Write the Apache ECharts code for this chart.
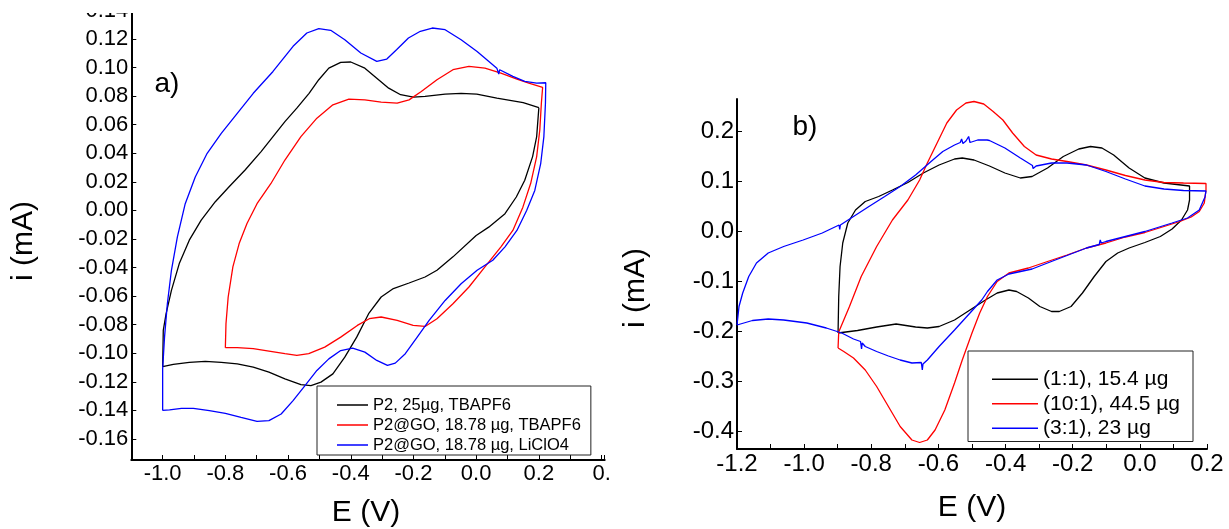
<!DOCTYPE html>
<html><head><meta charset="utf-8">
<script src="https://cdn.jsdelivr.net/npm/echarts@6/dist/echarts.min.js"></script>
<style>html,body{margin:0;padding:0;background:#fff}#c{width:1229px;height:529px}</style>
</head><body><div id="c"></div>
<script>
// ---------- DATA (E in V, i in mA) ----------
const namesA = ['P2, 25µg, TBAPF6', 'P2@GO, 18.78 µg, TBAPF6', 'P2@GO, 18.78 µg, LiClO4'];
const namesB = ['(1:1), 15.4 µg', '(10:1), 44.5 µg', '(3:1), 23 µg'];

const curveA1 = [[0.200,0.072],[0.15,0.0755],[0.066,0.0786],[0.002,0.0814],[-0.048,0.082],[-0.099,0.0814],[-0.163,0.0798],[-0.200,0.0793],[-0.241,0.081],[-0.279,0.0856],[-0.317,0.0926],[-0.355,0.0996],[-0.40,0.1039],[-0.432,0.1036],[-0.47,0.0996],[-0.502,0.0915],[-0.533,0.082],[-0.572,0.0716],[-0.61,0.0622],[-0.648,0.0517],[-0.686,0.0412],[-0.737,0.0283],[-0.788,0.0166],[-0.832,0.0061],[-0.877,-0.0068],[-0.915,-0.0208],[-0.947,-0.0372],[-0.972,-0.056],[-0.989,-0.0723],[-0.998,-0.084],[-1.0,-0.1093],
[-0.966,-0.1078],[-0.915,-0.1064],[-0.864,-0.1057],[-0.813,-0.1064],[-0.762,-0.1074],[-0.711,-0.1097],[-0.661,-0.1132],[-0.61,-0.1179],[-0.559,-0.1219],[-0.527,-0.1226],[-0.495,-0.1202],[-0.457,-0.1144],[-0.419,-0.1027],[-0.381,-0.0887],[-0.343,-0.0723],[-0.303,-0.0606],[-0.264,-0.0547],[-0.214,-0.0508],[-0.163,-0.0466],[-0.125,-0.0419],[-0.074,-0.0325],[0.0,-0.0175],[0.04,-0.0117],[0.092,-0.0023],[0.128,0.0094],[0.155,0.0211],[0.18,0.0377],[0.193,0.0517],[0.2,0.072]];

const curveA2 = [[-0.8,-0.0961],[-0.798,-0.0793],[-0.791,-0.0606],[-0.776,-0.0395],[-0.756,-0.0232],[-0.731,-0.0091],[-0.699,0.0047],[-0.655,0.0187],[-0.61,0.0353],[-0.559,0.0517],[-0.508,0.0646],[-0.457,0.0739],[-0.406,0.0779],[-0.355,0.0774],[-0.303,0.0758],[-0.252,0.0751],[-0.214,0.0774],[-0.175,0.0833],[-0.125,0.0915],[-0.074,0.0985],[-0.023,0.1008],[0.028,0.0996],[0.079,0.0961],[0.13,0.0919],[0.168,0.0891],[0.212,0.0861],
[0.208,0.075],[0.203,0.0564],[0.193,0.0377],[0.174,0.019],[0.149,0.0023],[0.117,-0.014],[0.079,-0.0255],[0.028,-0.0395],[-0.023,-0.0536],[-0.074,-0.0653],[-0.125,-0.0758],[-0.163,-0.0812],[-0.201,-0.0805],[-0.252,-0.077],[-0.303,-0.0746],[-0.341,-0.0758],[-0.379,-0.0805],[-0.432,-0.0887],[-0.483,-0.0957],[-0.534,-0.1003],[-0.572,-0.1015],[-0.61,-0.1003],[-0.661,-0.0985],[-0.711,-0.0968],[-0.762,-0.0961],[-0.8,-0.0961]];

const curveA3 = [[-1.0,-0.14],[-1.0,-0.111],[-0.994,-0.0887],[-0.985,-0.0653],[-0.972,-0.0419],[-0.953,-0.0185],[-0.928,0.0047],[-0.896,0.0234],[-0.858,0.04],[-0.813,0.054],[-0.762,0.068],[-0.711,0.082],[-0.648,0.0973],[-0.584,0.1149],[-0.54,0.1242],[-0.502,0.1273],[-0.464,0.1261],[-0.419,0.1195],[-0.368,0.1102],[-0.317,0.1043],[-0.285,0.106],[-0.254,0.1125],[-0.216,0.1207],[-0.178,0.1254],[-0.14,0.1277],[-0.099,0.1265],[-0.048,0.1195],[0.003,0.1113],[0.066,0.0996],[0.072,0.0955],[0.075,0.0985],[0.117,0.0938],[0.155,0.0903],[0.193,0.0891],[0.222,0.0894],
[0.221,0.075],[0.216,0.0517],[0.206,0.033],[0.187,0.014],[0.161,0.0],[0.13,-0.014],[0.092,-0.0255],[0.053,-0.0349],[0.003,-0.0419],[-0.048,-0.0513],[-0.099,-0.063],[-0.15,-0.077],[-0.188,-0.0887],[-0.226,-0.1003],[-0.258,-0.1069],[-0.283,-0.1085],[-0.317,-0.105],[-0.355,-0.0992],[-0.394,-0.0964],[-0.432,-0.0981],[-0.47,-0.1039],[-0.508,-0.112],[-0.546,-0.1226],[-0.584,-0.1331],[-0.622,-0.1425],[-0.661,-0.1471],[-0.699,-0.1476],[-0.75,-0.1448],[-0.8,-0.142],[-0.851,-0.1401],[-0.902,-0.1385],[-0.94,-0.1385],[-0.978,-0.1396],[-1.0,-0.14]];

const curveB1 = [[-0.899,-0.203],[-0.897,-0.13],[-0.893,-0.07],[-0.885,-0.023],[-0.87,0.017],[-0.847,0.043],[-0.818,0.06],[-0.778,0.07],[-0.737,0.083],[-0.691,0.098],[-0.645,0.117],[-0.598,0.133],[-0.552,0.145],[-0.529,0.147],[-0.494,0.143],[-0.448,0.131],[-0.402,0.117],[-0.356,0.107],[-0.321,0.11],[-0.275,0.127],[-0.228,0.15],[-0.182,0.165],[-0.147,0.17],[-0.113,0.167],[-0.078,0.153],[-0.032,0.127],[0.015,0.107],[0.072,0.097],[0.148,0.091],
[0.148,0.063],[0.142,0.043],[0.124,0.023],[0.096,0.005],[0.061,-0.01],[0.015,-0.022],[-0.032,-0.033],[-0.066,-0.043],[-0.101,-0.06],[-0.136,-0.09],[-0.171,-0.123],[-0.205,-0.15],[-0.24,-0.16],[-0.263,-0.16],[-0.298,-0.15],[-0.332,-0.133],[-0.367,-0.12],[-0.39,-0.117],[-0.425,-0.123],[-0.46,-0.137],[-0.506,-0.157],[-0.552,-0.177],[-0.598,-0.19],[-0.633,-0.193],[-0.668,-0.191],[-0.726,-0.185],[-0.784,-0.191],[-0.841,-0.198],[-0.899,-0.203]];

const curveB2 = [[-0.899,-0.233],[-0.897,-0.201],[-0.865,-0.15],[-0.83,-0.09],[-0.784,-0.03],[-0.737,0.023],[-0.691,0.063],[-0.656,0.103],[-0.633,0.137],[-0.604,0.177],[-0.575,0.217],[-0.546,0.243],[-0.518,0.257],[-0.494,0.26],[-0.465,0.255],[-0.437,0.24],[-0.408,0.223],[-0.379,0.197],[-0.344,0.17],[-0.309,0.153],[-0.263,0.145],[-0.217,0.14],[-0.159,0.133],[-0.101,0.123],[-0.043,0.112],[0.015,0.103],[0.072,0.098],[0.13,0.097],[0.197,0.096],
[0.197,0.083],[0.192,0.057],[0.177,0.04],[0.153,0.029],[0.119,0.02],[0.072,0.01],[0.015,-0.002],[-0.043,-0.011],[-0.101,-0.023],[-0.159,-0.033],[-0.217,-0.047],[-0.275,-0.06],[-0.332,-0.073],[-0.39,-0.083],[-0.425,-0.1],[-0.454,-0.13],[-0.477,-0.163],[-0.5,-0.203],[-0.529,-0.257],[-0.552,-0.303],[-0.581,-0.357],[-0.61,-0.397],[-0.633,-0.417],[-0.656,-0.422],[-0.679,-0.417],[-0.714,-0.39],[-0.749,-0.35],[-0.784,-0.31],[-0.818,-0.277],[-0.853,-0.253],[-0.882,-0.24],[-0.899,-0.233]];

const curveB3 = [[-1.2,-0.187],[-1.194,-0.15],[-1.183,-0.123],[-1.165,-0.09],[-1.142,-0.063],[-1.107,-0.043],[-1.061,-0.03],[-1.003,-0.017],[-0.946,-0.003],[-0.896,0.013],[-0.894,0.004],[-0.892,0.013],[-0.853,0.03],[-0.807,0.05],[-0.76,0.07],[-0.714,0.09],[-0.668,0.113],[-0.622,0.14],[-0.587,0.16],[-0.552,0.173],[-0.535,0.178],[-0.531,0.185],[-0.527,0.176],[-0.518,0.181],[-0.51,0.19],[-0.506,0.178],[-0.483,0.183],[-0.455,0.183],[-0.452,0.186],[-0.448,0.182],[-0.402,0.167],[-0.356,0.147],[-0.32,0.132],[-0.318,0.126],[-0.309,0.131],[-0.263,0.137],[-0.217,0.137],[-0.159,0.133],[-0.101,0.12],[-0.043,0.105],[0.015,0.091],[0.072,0.085],[0.13,0.082],[0.197,0.081],
[0.194,0.069],[0.177,0.043],[0.142,0.027],[0.096,0.017],[0.015,0.0],[-0.043,-0.01],[-0.101,-0.02],[-0.115,-0.023],[-0.118,-0.017],[-0.121,-0.026],[-0.159,-0.033],[-0.217,-0.048],[-0.275,-0.063],[-0.321,-0.075],[-0.39,-0.085],[-0.425,-0.097],[-0.454,-0.12],[-0.471,-0.137],[-0.506,-0.163],[-0.552,-0.197],[-0.598,-0.23],[-0.633,-0.257],[-0.646,-0.265],[-0.648,-0.277],[-0.651,-0.262],[-0.679,-0.263],[-0.714,-0.257],[-0.749,-0.249],[-0.784,-0.24],[-0.818,-0.23],[-0.827,-0.223],[-0.829,-0.235],[-0.832,-0.22],[-0.853,-0.215],[-0.888,-0.203],[-0.934,-0.193],[-0.992,-0.183],[-1.061,-0.177],[-1.107,-0.175],[-1.154,-0.178],[-1.2,-0.187]];

const colors = ['#000000', '#ff0000', '#0000ff'];
// ---------- CHART ----------
const FONT = "'Liberation Sans', Arial, sans-serif";
const chart = echarts.init(document.getElementById('c'), null, {renderer: 'canvas'});

function evenTenths(v, lastAs) {
  const k = Math.round(v * 10);
  if (Math.abs(v * 10 - k) > 1e-6 || k % 2 !== 0) return '';
  if (lastAs && k === 4) return lastAs;
  return (k / 10).toFixed(1);
}
const axisLineStyle = {show: true, onZero: false, lineStyle: {color: '#000', width: 2}};
const tickStyle = {show: true, inside: true, length: 5, lineStyle: {color: '#000', width: 1}};

function mkSeries(name, data, xi, ci) {
  return {name, type: 'line', data, xAxisIndex: xi, yAxisIndex: xi, showSymbol: false, symbol: 'none',
    lineStyle: {color: colors[ci], width: 1.3}, itemStyle: {color: colors[ci]}, animation: false};
}

chart.setOption({
  animation: false,
  backgroundColor: '#fff',
  grid: [
    {left: 131.3, top: 3.3, width: 473.4, height: 456.7, containLabel: false, outerBoundsMode: 'none'},
    {left: 737, top: 99, width: 470, height: 350, containLabel: false, outerBoundsMode: 'none'}
  ],
  xAxis: [
    {type: 'value', gridIndex: 0, min: -1.1, max: 0.41, interval: 0.1,
     axisLine: axisLineStyle, axisTick: tickStyle, splitLine: {show: false},
     axisLabel: {color: '#000', fontFamily: FONT, fontSize: 22, margin: 3, formatter: v => evenTenths(v, '0.'),
       showMinLabel: true, showMaxLabel: true, hideOverlap: false}},
    {type: 'value', gridIndex: 1, min: -1.2, max: 0.2, interval: 0.1,
     axisLine: axisLineStyle, axisTick: tickStyle, splitLine: {show: false},
     axisLabel: {color: '#000', fontFamily: FONT, fontSize: 24, margin: 3, formatter: v => evenTenths(v),
       showMinLabel: true, showMaxLabel: true, hideOverlap: false}}
  ],
  yAxis: [
    {type: 'value', gridIndex: 0, min: -0.1747, max: 0.145, minInterval: 0.02, maxInterval: 0.02, splitNumber: 16,
     axisLine: axisLineStyle, axisTick: tickStyle, splitLine: {show: false},
     axisLabel: {color: '#000', fontFamily: FONT, fontSize: 22, margin: 3, showMinLabel: false, showMaxLabel: false,
       formatter: v => v.toFixed(2), hideOverlap: false}},
    {type: 'value', gridIndex: 1, min: -0.435, max: 0.265, minInterval: 0.1, maxInterval: 0.1, splitNumber: 7,
     axisLine: axisLineStyle, axisTick: tickStyle, splitLine: {show: false},
     axisLabel: {color: '#000', fontFamily: FONT, fontSize: 24, margin: 3, showMinLabel: false, showMaxLabel: false,
       formatter: v => v.toFixed(1), hideOverlap: false}}
  ],
  legend: [
    {data: namesA, orient: 'vertical', left: 317, top: 386, icon: 'rect', itemWidth: 31, itemHeight: 1.5, itemGap: 0,
     padding: [9, 10, 0, 20], borderColor: '#222', borderWidth: 1, backgroundColor: '#fff',
     textStyle: {color: '#000', fontFamily: FONT, fontSize: 16.5, lineHeight: 20}, selectedMode: false},
    {data: namesB, orient: 'vertical', left: 968, top: 351, icon: 'rect', itemWidth: 46, itemHeight: 1.5, itemGap: 0,
     padding: [16, 13, 1, 24], borderColor: '#222', borderWidth: 1, backgroundColor: '#fff',
     textStyle: {color: '#000', fontFamily: FONT, fontSize: 21, lineHeight: 24.5}, selectedMode: false}
  ],
  series: [
    mkSeries(namesA[0], curveA1, 0, 0),
    mkSeries(namesA[1], curveA2, 0, 1),
    mkSeries(namesA[2], curveA3, 0, 2),
    mkSeries(namesB[0], curveB1, 1, 0),
    mkSeries(namesB[1], curveB2, 1, 1),
    mkSeries(namesB[2], curveB3, 1, 2)
  ],
  graphic: [
    {type: 'rect', shape: {x: 0, y: 0, width: 625, height: 13}, style: {fill: '#fff'}, z: 100, silent: true},
    {type: 'text', x: 167, y: 84, z: 101, style: {text: 'a)', font: '28px ' + FONT, fill: '#000', align: 'center', verticalAlign: 'middle', textAlign: 'center', textVerticalAlign: 'middle'}},
    {type: 'text', x: 805, y: 127, z: 101, style: {text: 'b)', font: '28px ' + FONT, fill: '#000', align: 'center', verticalAlign: 'middle', textAlign: 'center', textVerticalAlign: 'middle'}},
    {type: 'text', x: 24, y: 241, rotation: Math.PI / 2, z: 101, style: {text: 'i (mA)', font: '30px ' + FONT, fill: '#000', align: 'center', verticalAlign: 'middle', textAlign: 'center', textVerticalAlign: 'middle'}},
    {type: 'text', x: 636, y: 288, rotation: Math.PI / 2, z: 101, style: {text: 'i (mA)', font: '30px ' + FONT, fill: '#000', align: 'center', verticalAlign: 'middle', textAlign: 'center', textVerticalAlign: 'middle'}},
    {type: 'text', x: 366, y: 513, z: 101, style: {text: 'E (V)', font: '30px ' + FONT, fill: '#000', align: 'center', verticalAlign: 'middle', textAlign: 'center', textVerticalAlign: 'middle'}},
    {type: 'text', x: 972, y: 508, z: 101, style: {text: 'E (V)', font: '30px ' + FONT, fill: '#000', align: 'center', verticalAlign: 'middle', textAlign: 'center', textVerticalAlign: 'middle'}}
  ]
});
</script></body></html>
